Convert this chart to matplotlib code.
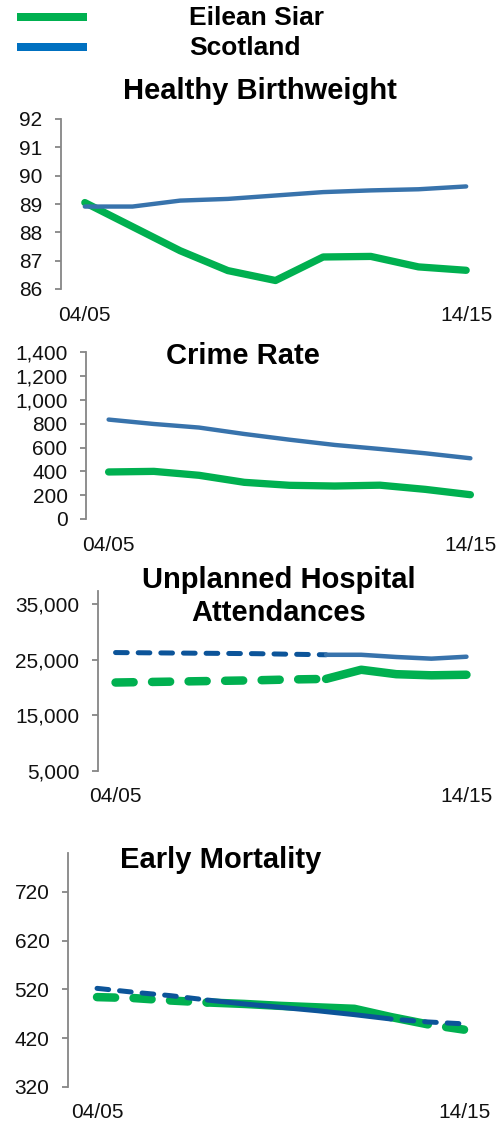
import numpy as np
import matplotlib
matplotlib.use("Agg")
import matplotlib.pyplot as plt
from matplotlib.lines import Line2D
from matplotlib.ticker import FuncFormatter

plt.rcParams['font.family'] = ['Liberation Sans', 'DejaVu Sans']
plt.rcParams['lines.scale_dashes'] = False

# ---------------- data ----------------
series_names = ["Eilean Siar", "Scotland"]
x_labels = ["04/05", "14/15"]

# Healthy Birthweight (9 points)
bw_es = [89.05, 88.2, 87.35, 86.65, 86.3, 87.13, 87.15, 86.78, 86.66]
bw_sc = [88.91, 88.91, 89.12, 89.18, 89.3, 89.42, 89.48, 89.52, 89.62]
bw_ticks = [86, 87, 88, 89, 90, 91, 92]

# Crime Rate (9 points)
cr_es = [395, 400, 367, 308, 283, 277, 284, 249, 204]
cr_sc = [835, 798, 768, 714, 666, 622, 588, 552, 510]
cr_ticks = [0, 200, 400, 600, 800, 1000, 1200, 1400]

# Unplanned Hospital Attendances (11 points; first 7 estimated -> dashed)
uh_es = [20900, 21000, 21100, 21200, 21300, 21450, 21550, 23200, 22400, 22200, 22300]
uh_sc = [26300, 26250, 26200, 26150, 26100, 26000, 25900, 25900, 25500, 25200, 25550]
uh_ticks = [5000, 15000, 25000, 35000]

# Early Mortality (11 points)
em_es = [504, 502, 497, 493, 490, 486, 483, 480, 463, 448, 437]
em_sc = [522, 514, 507, 498, 490, 483, 476, 468, 459, 453, 449]
em_ticks = [320, 420, 520, 620, 720]

# ---------------- style ----------------
GREEN = "#00B050"
BLUE = "#3873AC"
DBLUE = "#0C5499"
LEG_BLUE = "#0070C0"
GRAY = "#868686"
W, H = 497, 1123
PX = 0.72  # points per pixel at dpi 100

fig = plt.figure(figsize=(W / 100, H / 100), dpi=100)


def ax_at(l, t, r, b):
    return fig.add_axes([l / W, 1 - b / H, (r - l) / W, (b - t) / H])


def style(ax, n, ylim, ticks, fmt=None):
    ax.set_xlim(-0.5, n - 0.5)
    ax.set_ylim(*ylim)
    for s in ["top", "right", "bottom"]:
        ax.spines[s].set_visible(False)
    ax.spines["left"].set_color(GRAY)
    ax.spines["left"].set_linewidth(1.3)
    ax.set_yticks(ticks)
    if fmt:
        ax.yaxis.set_major_formatter(FuncFormatter(lambda v, p: f"{v:,.0f}"))
    ax.tick_params(axis="y", length=6 * PX, width=1.3, color=GRAY, pad=9,
                   labelsize=15, labelcolor="#111111")
    ax.set_xticks([0, n - 1])
    ax.set_xticklabels(x_labels)
    ax.tick_params(axis="x", length=0, pad=12, labelsize=15, labelcolor="#111111")
    ax.patch.set_alpha(0)


def title(x, y, s):
    fig.text(x / W, 1 - y / H, s, ha="center", va="center", fontsize=21,
             fontweight="bold", color="black")


# legend
fig.add_artist(Line2D([17 / W, 87 / W], [1 - 17 / H, 1 - 17 / H], lw=8 * PX,
                      color=GREEN, solid_capstyle="butt"))
fig.add_artist(Line2D([17 / W, 87 / W], [1 - 47 / H, 1 - 47 / H], lw=8 * PX,
                      color=LEG_BLUE, solid_capstyle="butt"))
fig.text(189 / W, 1 - 18 / H, series_names[0], ha="left", va="center",
         fontsize=19, fontweight="bold")
fig.text(189 / W, 1 - 48 / H, series_names[1], ha="left", va="center",
         fontsize=19, fontweight="bold")

# Panel 1: Healthy Birthweight
ax1 = ax_at(61, 119, 490, 289)
x9 = np.arange(len(bw_es))
ax1.plot(x9, bw_es, color=GREEN, lw=7.3 * PX, solid_capstyle="round", solid_joinstyle="round")
ax1.plot(x9, bw_sc, color=BLUE, lw=4.4 * PX, solid_capstyle="round", solid_joinstyle="round")
style(ax1, len(bw_es), (86, 92), bw_ticks)
title(260, 91, "Healthy Birthweight")

# Panel 2: Crime Rate
ax2 = ax_at(86, 352.3, 493, 519)
ax2.plot(x9, cr_es, color=GREEN, lw=7.3 * PX, solid_capstyle="round", solid_joinstyle="round")
ax2.plot(x9, cr_sc, color=BLUE, lw=4.4 * PX, solid_capstyle="round", solid_joinstyle="round")
style(ax2, len(cr_es), (0, 1400), cr_ticks, fmt=True)
title(243, 356, "Crime Rate")

# Panel 3: Unplanned Hospital Attendances
ax3 = ax_at(98, 591, 484, 770.7)
x11 = np.arange(len(uh_es))
est = 7  # first 7 points are estimates (dashed)
ax3.plot(x11[:est], uh_es[:est], color=GREEN, lw=8.5 * PX, dashes=(13, 13.3),
         dash_capstyle="round")
ax3.plot(x11[est - 1:], uh_es[est - 1:], color=GREEN, lw=8.5 * PX,
         solid_capstyle="round", solid_joinstyle="round")
ax3.plot(x11[:est], uh_sc[:est], color=DBLUE, lw=5 * PX, dashes=(8.4, 7.9),
         dash_capstyle="round")
ax3.plot(x11[est - 1:], uh_sc[est - 1:], color=BLUE, lw=4.5 * PX,
         solid_capstyle="round", solid_joinstyle="round")
style(ax3, len(uh_es), (5000, 37400), uh_ticks, fmt=True)
title(279, 580, "Unplanned Hospital")
title(279, 613, "Attendances")

# Panel 4: Early Mortality
ax4 = ax_at(68, 853, 483, 1086.7)
es_a, es_b = 3, 9
sc_a, sc_b = 3, 8
ax4.plot(x11[:es_a + 1], em_es[:es_a + 1], color=GREEN, lw=8.5 * PX, dashes=(13, 13.3),
         dash_capstyle="round")
ax4.plot(x11[es_a:es_b + 1], em_es[es_a:es_b + 1], color=GREEN, lw=8.5 * PX,
         solid_capstyle="round", solid_joinstyle="round")
ax4.plot(x11[es_b:], em_es[es_b:], color=GREEN, lw=8.5 * PX,
         linestyle=(13, (13, 13.3)), dash_capstyle="round")
ax4.plot(x11[:sc_a + 1], em_sc[:sc_a + 1], color=DBLUE, lw=5 * PX, dashes=(8.4, 7.9),
         dash_capstyle="round")
ax4.plot(x11[sc_a:sc_b + 1], em_sc[sc_a:sc_b + 1], color=DBLUE, lw=5 * PX,
         solid_capstyle="round", solid_joinstyle="round")
ax4.plot(x11[sc_b:], em_sc[sc_b:], color=DBLUE, lw=5 * PX,
         linestyle=(8.4, (8.4, 7.9)), dash_capstyle="round")
style(ax4, len(em_es), (320, 800), em_ticks)
ax4.set_xlim(-0.79, 10.5)
title(221, 860, "Early Mortality")

fig.savefig("out.png", dpi=100)
